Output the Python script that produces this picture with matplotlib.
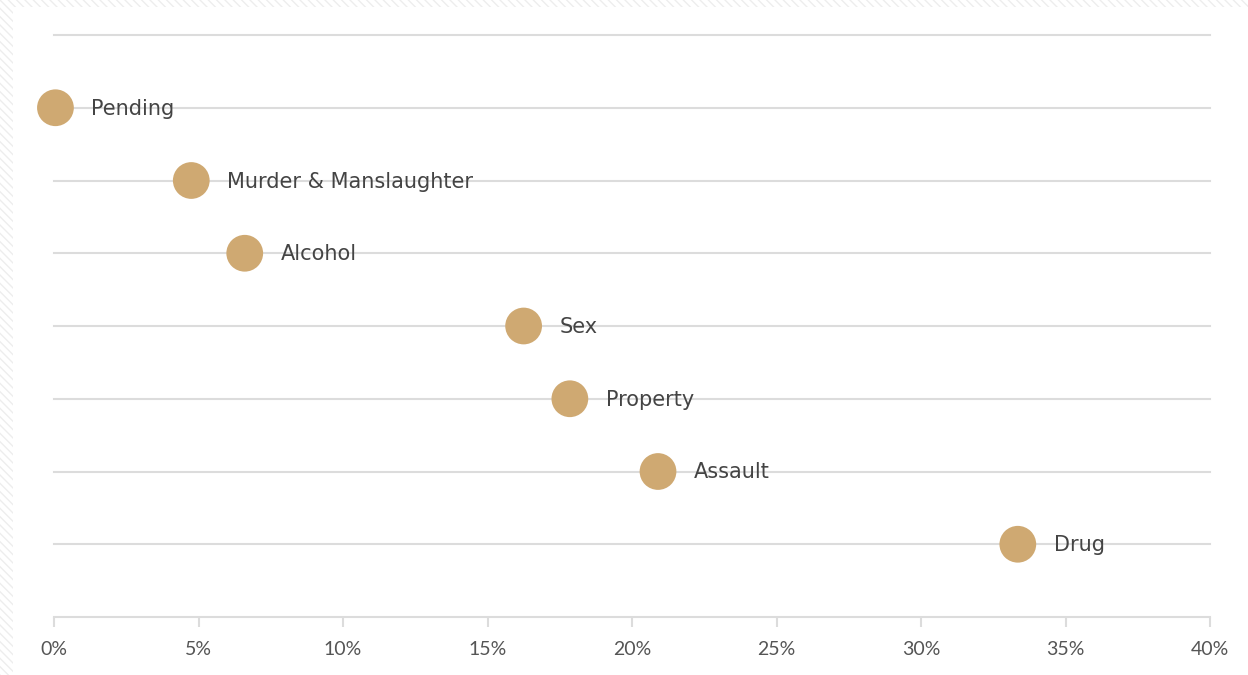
import numpy as np
import matplotlib.pyplot as plt
from matplotlib.patches import Rectangle

categories = ['Pending', 'Murder & Manslaughter', 'Alcohol', 'Sex', 'Property', 'Assault', 'Drug']
values = [0.05, 4.75, 6.6, 16.25, 17.85, 20.9, 33.35]
x_ticks = [0, 5, 10, 15, 20, 25, 30, 35, 40]
x_tick_labels = ['%d%%' % t for t in x_ticks]

dot_color = '#CFA972'
grid_color = '#DCDCDC'

fig = plt.figure(figsize=(12.48, 6.75), dpi=100)
fig.patch.set_facecolor('white')

# faint hatched page edge, covered by a white panel
fig.patches.append(Rectangle((0, 0), 1, 1, transform=fig.transFigure, facecolor='white',
                             edgecolor='#EDEDED', hatch='\\\\\\\\', linewidth=0, zorder=-3))
fig.patches.append(Rectangle((13 / 1248, 0), 1, 1 - 7 / 675, transform=fig.transFigure,
                             facecolor='white', edgecolor='none', zorder=-2))

ax = fig.add_axes([54 / 1248, 58 / 675, 1156 / 1248, 582 / 675])
ax.set_facecolor('none')

y = np.arange(len(categories))

# horizontal guide lines (one empty slot at top)
for yy in range(-1, len(categories)):
    ax.axhline(yy, color=grid_color, lw=1.5, zorder=1, clip_on=False)

ax.scatter(values, y, s=700, color=dot_color, edgecolors='none', zorder=3, clip_on=False)

for v, yy, name in zip(values, y, categories):
    ax.annotate(name, (v, yy), xytext=(36, -1), textcoords='offset pixels',
                va='center', ha='left', fontsize=15, color='#444444',
                family=['DejaVu Sans'], zorder=4)

ax.set_xlim(0, 40)
ax.set_ylim(len(categories), -1)
ax.set_xticks(x_ticks)
ax.set_xticklabels(x_tick_labels, fontsize=14, color='#555555', family='Lato')
ax.set_yticks([])

for s in ['top', 'right', 'left']:
    ax.spines[s].set_visible(False)
ax.spines['bottom'].set_color(grid_color)
ax.spines['bottom'].set_linewidth(1.5)
ax.tick_params(axis='x', length=7, width=1.5, color=grid_color, pad=10)

fig.savefig('out.png', dpi=100)
